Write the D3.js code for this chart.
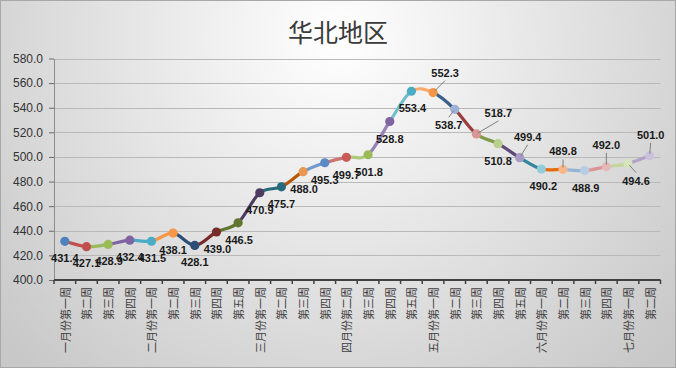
<!DOCTYPE html>
<html><head><meta charset="utf-8">
<script src="https://cdn.jsdelivr.net/npm/d3@7"></script>
<style>html,body{margin:0;padding:0;background:#fff;overflow:hidden}</style>
</head><body><svg id="c" width="676" height="368"></svg>
<script>
const title = "华北地区";
const categories = ["一月份第一周","第二周","第三周","第四周","二月份第一周","第二周","第三周","第四周","第五周","三月份第一周","第二周","第三周","第四周","四月份第二周","第三周","第四周","第五周","五月份第一周","第二周","第三周","第四周","第五周","六月份第一周","第二周","第三周","第四周","七月份第一周","第二周"];
const values = [431.4,427.1,428.9,432.4,431.5,438.1,428.1,439.0,446.5,470.9,475.7,488.0,495.3,499.7,501.8,528.8,553.4,552.3,538.7,518.7,510.8,499.4,490.2,489.8,488.9,492.0,494.6,501.0];
const yTicks = [400,420,440,460,480,500,520,540,560,580];
const lineColors = ["#4F81BD","#C0504D","#9BBB59","#8064A2","#4BACC6","#F79646","#2C4D75","#772C2A","#5F7530","#4D3B62","#276A7C","#B65708","#729ACA","#CD7371","#AFC97A","#9983B5","#6FBDD1","#F9AB6B","#3A5F8B","#9B3D3B","#7F9A48","#5F497A","#31859C","#E46C0A","#95B3D7","#D99694","#C3D69B","#B3A2C7"];
const markerColors = ["#4F81BD","#C0504D","#9BBB59","#8064A2","#4BACC6","#F79646","#2C4D75","#772C2A","#5F7530","#4D3B62","#276A7C","#E8994F","#5B8AC6","#C85A57","#9BBB59","#8064A2","#4BACC6","#F79646","#9DB3D6","#D69896","#B8D08A","#A89BC3","#92CDDC","#F8B88B","#B8CCE4","#E6B9B8","#D7E4BD","#CCC1DA"];
// data-label layout (offset of label centre from its point, and whether a leader line is drawn)
const labelDx = [0,0,1,0,1,0,0,1,1,0,0,1,0,0,1,0,1,12,-6,22,0,8,2,0,1,0,8,1];
const labelDy = [17,16,17,17,17,17,17,17,17,17,17,17,17,18,17,17,17,-20,16,-21,17,-21,17,-18,17,-22,17,-21];
const leader = [0,0,0,0,0,0,0,0,0,0,0,0,0,0,0,0,0,1,1,1,0,1,0,1,0,1,1,1];

const W = 676, H = 368;
const svg = d3.select("#c");
const defs = svg.append("defs");
const grad = defs.append("radialGradient").attr("id","bg")
  .attr("gradientUnits","userSpaceOnUse").attr("cx",338).attr("cy",40).attr("r",450);
grad.append("stop").attr("offset",0).attr("stop-color","#ffffff");
grad.append("stop").attr("offset",1).attr("stop-color","#c8c8c8");
svg.append("rect").attr("width",W).attr("height",H).attr("fill","url(#bg)");
svg.append("rect").attr("x",0.5).attr("y",0.5).attr("width",W-1).attr("height",H-1)
  .attr("fill","none").attr("stroke","#a8a8a8");

const left = 54, right = 660.5;
const x = d3.scaleBand().domain(d3.range(categories.length)).range([left, right]).padding(0);
const cx = i => x(i) + x.bandwidth()/2;
const y = d3.scaleLinear().domain([400,580]).range([280,58.5]);
const crisp = v => Math.round(v) + 0.5;

// title
svg.append("text").attr("x",W/2).attr("y",31).attr("text-anchor","middle")
  .attr("dominant-baseline","central")
  .style("font-family","'Noto Sans CJK SC'").style("font-size","25px").attr("fill","#3a3a3a")
  .text(title);

// gridlines
svg.append("g").selectAll("line").data(yTicks.filter(t => t > 400)).join("line")
  .attr("x1",left).attr("x2",right)
  .attr("y1",d => crisp(y(d))).attr("y2",d => crisp(y(d)))
  .attr("stroke","#b9b9b9").attr("stroke-width",1);

// y axis
const yAxis = svg.append("g").attr("transform",`translate(${crisp(left)-0.5},0)`)
  .call(d3.axisLeft(y).tickValues(yTicks).tickFormat(d => d.toFixed(1)).tickSize(5).tickPadding(6).tickSizeOuter(0));
yAxis.select(".domain").attr("stroke","#8c8c8c");
yAxis.selectAll(".tick line").attr("stroke","#6a6a6a");
yAxis.selectAll(".tick text").style("font-family","'Liberation Sans', Arial, sans-serif")
  .style("font-size","12px").attr("fill","#333");

// x axis
const xg = svg.append("g");
xg.append("line").attr("x1",left).attr("x2",right).attr("y1",y(400)).attr("y2",y(400))
  .attr("stroke","#404040").attr("stroke-width",2);
xg.selectAll("line.t").data(d3.range(categories.length+1)).join("line").attr("class","t")
  .attr("x1",i => left + i*x.bandwidth()).attr("x2",i => left + i*x.bandwidth())
  .attr("y1",y(400)).attr("y2",y(400)+4).attr("stroke","#404040").attr("stroke-width",1.5);
xg.selectAll("text").data(categories).join("text")
  .attr("transform",(d,i) => `translate(${cx(i)},${y(400)+7}) rotate(-90)`)
  .attr("text-anchor","end").attr("dominant-baseline","central")
  .style("font-family","'Noto Sans CJK SC'").style("font-size","11px").attr("fill","#404040")
  .text(d => d);

// smoothed line, one coloured segment per point
const pts = values.map((v,i) => [cx(i), y(v)]);
const seg = svg.append("g");
for (let i = 1; i < pts.length; i++) {
  const p0 = pts[Math.max(i-2,0)], p1 = pts[i-1], p2 = pts[i], p3 = pts[Math.min(i+1,pts.length-1)];
  const c1 = [p1[0] + (p2[0]-p0[0])/6, p1[1] + (p2[1]-p0[1])/6];
  const c2 = [p2[0] - (p3[0]-p1[0])/6, p2[1] - (p3[1]-p1[1])/6];
  const path = d3.path();
  path.moveTo(p1[0],p1[1]);
  path.bezierCurveTo(c1[0],c1[1],c2[0],c2[1],p2[0],p2[1]);
  seg.append("path").attr("d",path.toString()).attr("fill","none")
    .attr("stroke",lineColors[i]).attr("stroke-width",3.2).attr("stroke-linecap","round");
}

// markers
svg.append("g").selectAll("circle").data(values).join("circle")
  .attr("cx",(d,i) => cx(i)).attr("cy",d => y(d)).attr("r",4.6)
  .attr("fill",(d,i) => markerColors[i]);

// leader lines
svg.append("g").selectAll("line").data(values.map((v,i)=>i).filter(i => leader[i])).join("line")
  .each(function(i){
    const px = cx(i), py = y(values[i]);
    const lx = px + labelDx[i], ly = py + labelDy[i] + (labelDy[i] < 0 ? 8 : -8);
    const dx = lx - px, dy = ly - py, L = Math.hypot(dx,dy) || 1;
    d3.select(this).attr("x1",lx).attr("y1",ly).attr("x2",px + dx/L*2).attr("y2",py + dy/L*2);
  })
  .attr("stroke","#7f7f7f").attr("stroke-width",1);

// data labels
svg.append("g").selectAll("text").data(values).join("text")
  .attr("x",(d,i) => cx(i) + labelDx[i]).attr("y",(d,i) => y(d) + labelDy[i])
  .attr("text-anchor","middle").attr("dominant-baseline","central")
  .style("font-family","'Liberation Sans', Arial, sans-serif").style("font-size","11px")
  .style("font-weight","bold").attr("fill","#1a1a1a")
  .text(d => d.toFixed(1));
</script></body></html>
